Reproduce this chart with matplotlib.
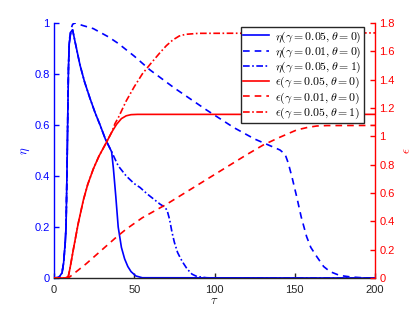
import matplotlib
matplotlib.use("Agg")
import matplotlib.pyplot as plt
import numpy as np

plt.rcParams['font.family'] = ['Liberation Sans', 'DejaVu Sans']
plt.rcParams['mathtext.fontset'] = 'cm'

# eta(gamma=0.05, theta=0)
tau_eta_s = [0, 3, 5, 6, 7, 7.5, 8, 8.5, 9, 9.5, 10.5, 11.6, 13, 16.2, 19, 22.4, 25.5, 28.7, 32, 35.9,
             37, 38.5, 40, 42, 44, 46, 48, 51, 55, 200]
eta_s = [0, 0.002, 0.02, 0.06, 0.14, 0.2, 0.38, 0.6, 0.82, 0.92, 0.965, 0.973, 0.93, 0.835, 0.77, 0.705,
         0.65, 0.6, 0.545, 0.495, 0.43, 0.32, 0.2, 0.12, 0.075, 0.045, 0.025, 0.008, 0.001, 0]

# eta(gamma=0.01, theta=0)
tau_eta_d = [0, 3, 5, 6, 7, 7.5, 8, 8.5, 9, 9.5, 10.5, 11.6, 13.1, 18, 24.5, 33.8, 40, 50, 59.8, 75, 95,
             112, 125, 140.8, 144, 146, 148.5, 151.2, 154, 157.4, 160, 163.7, 168, 172, 178, 185, 192, 200]
eta_d = [0, 0.002, 0.02, 0.06, 0.14, 0.2, 0.38, 0.6, 0.82, 0.93, 0.975, 0.995, 1.0, 0.99, 0.978, 0.946,
         0.92, 0.87, 0.816, 0.745, 0.659, 0.59, 0.545, 0.502, 0.485, 0.45, 0.39, 0.319, 0.24, 0.162, 0.12,
         0.084, 0.045, 0.025, 0.01, 0.004, 0.001, 0]

# eta(gamma=0.05, theta=1)
tau_eta_dd = [0, 3, 5, 6, 7, 7.5, 8, 8.5, 9, 9.5, 10.5, 11.6, 13, 16.2, 19, 22.4, 25.5, 28.7, 32, 35.9,
              40, 45, 50, 53.6, 58, 62, 66, 69, 70.5, 72, 73.5, 75, 77, 79, 80.6, 83, 86, 89, 95, 100, 200]
eta_dd = [0, 0.002, 0.02, 0.06, 0.14, 0.2, 0.38, 0.6, 0.82, 0.92, 0.965, 0.973, 0.93, 0.835, 0.77, 0.705,
          0.65, 0.6, 0.545, 0.495, 0.44, 0.40, 0.37, 0.355, 0.33, 0.31, 0.29, 0.278, 0.265, 0.23, 0.18,
          0.14, 0.1, 0.075, 0.058, 0.035, 0.015, 0.006, 0.001, 0, 0]

# eps(gamma=0.05, theta=0)
tau_eps_s = [0, 7, 8.9, 10, 12, 15, 18.3, 21, 24.5, 28, 32.8, 36, 39, 42, 45, 48, 52, 200]
eps_s = [0, 0, 0.01, 0.07, 0.198, 0.38, 0.55, 0.66, 0.77, 0.86, 0.96, 1.03, 1.085, 1.125, 1.145, 1.153,
         1.155, 1.155]

# eps(gamma=0.01, theta=0)
tau_eps_d = [0, 8, 9.5, 20, 30, 39, 45, 55, 70, 85, 100, 110, 120, 130.4, 140, 151.2, 158, 163.7, 170, 200]
eps_d = [0, 0, 0.005, 0.1, 0.2, 0.29, 0.345, 0.425, 0.52, 0.625, 0.73, 0.8, 0.87, 0.939, 0.99, 1.045,
         1.063, 1.073, 1.076, 1.077]

# eps(gamma=0.05, theta=1)
tau_eps_dd = [0, 7, 8.9, 10, 12, 15, 18.3, 21, 24.5, 28, 32.8, 36, 38, 40, 45, 50, 55, 60, 66, 70, 74,
              78, 82, 90, 200]
eps_dd = [0, 0, 0.01, 0.07, 0.198, 0.38, 0.55, 0.66, 0.77, 0.86, 0.96, 1.03, 1.09, 1.13, 1.25, 1.35,
          1.44, 1.51, 1.59, 1.64, 1.68, 1.708, 1.72, 1.727, 1.73]

labels = [r'$\eta(\gamma=0.05,\theta=0)$', r'$\eta(\gamma=0.01,\theta=0)$', r'$\eta(\gamma=0.05,\theta=1)$',
          r'$\epsilon(\gamma=0.05,\theta=0)$', r'$\epsilon(\gamma=0.01,\theta=0)$', r'$\epsilon(\gamma=0.05,\theta=1)$']

xticks = [0, 50, 100, 150, 200]
yticks_left = [0, 0.2, 0.4, 0.6, 0.8, 1]
yticks_right = [0, 0.2, 0.4, 0.6, 0.8, 1, 1.2, 1.4, 1.6, 1.8]

BLUE = '#0000ff'
RED = '#ff0000'
GRAY = '#262626'
fs = 8
lw = 1.2

fig = plt.figure(figsize=(4.15, 3.12), dpi=100)
ax = fig.add_axes([54/415, 1-278/312, (375-54)/415, (278-23)/312])
ax2 = ax.twinx()

h1, = ax.plot(tau_eta_s, eta_s, '-', color=BLUE, lw=lw)
h2, = ax.plot(tau_eta_d, eta_d, '--', color=BLUE, lw=lw, dashes=(4, 3))
h3, = ax.plot(tau_eta_dd, eta_dd, '-.', color=BLUE, lw=lw, dashes=(4, 1.5, 1, 1.5))
h4, = ax2.plot(tau_eps_s, eps_s, '-', color=RED, lw=lw)
h5, = ax2.plot(tau_eps_d, eps_d, '--', color=RED, lw=lw, dashes=(4, 3))
h6, = ax2.plot(tau_eps_dd, eps_dd, '-.', color=RED, lw=lw, dashes=(4, 1.5, 1, 1.5))

ax.set_xlim(0, 200)
ax.set_ylim(0, 1)
ax2.set_ylim(0, 1.8)

ax.set_xticks(xticks)
ax.set_xticklabels([str(v) for v in xticks])
ax.set_yticks(yticks_left)
ax.set_yticklabels(['0' if v == 0 else ('1' if v == 1 else f'{v:g}') for v in yticks_left])
ax2.set_yticks(yticks_right)
ax2.set_yticklabels([f'{v:g}' for v in yticks_right])

for a in (ax, ax2):
    a.spines['top'].set_visible(False)
ax.spines['right'].set_visible(False)
ax2.spines['left'].set_visible(False)
ax2.spines['bottom'].set_visible(False)
ax.spines['left'].set_color(BLUE)
ax.spines['left'].set_linewidth(1.0)
ax.spines['bottom'].set_color(GRAY)
ax.spines['bottom'].set_linewidth(1.0)
ax2.spines['right'].set_color(RED)
ax2.spines['right'].set_linewidth(1.0)

ax.tick_params(axis='y', direction='in', colors=BLUE, labelsize=fs, length=3.5, width=1, pad=3)
ax.tick_params(axis='x', direction='in', colors=GRAY, labelsize=fs, length=3.5, width=1, pad=5)
ax2.tick_params(axis='y', direction='in', colors=RED, labelsize=fs, length=3.5, width=1, pad=3)

ax.set_xlabel(r'$\tau$', fontsize=9, color=GRAY, labelpad=0)
ax.set_ylabel(r'$\eta$', fontsize=9, color=BLUE, labelpad=2)
ax2.set_ylabel(r'$\epsilon$', fontsize=9, color=RED, labelpad=5)

leg = ax2.legend([h1, h2, h3, h4, h5, h6], labels, loc='upper right', bbox_to_anchor=(364/415, 1-27/312),
                 bbox_transform=fig.transFigure, fontsize=8.5, frameon=True, fancybox=False,
                 edgecolor=GRAY, framealpha=1, borderpad=0.2, labelspacing=0.0, handlelength=2.2,
                 handletextpad=0.5, borderaxespad=0)
leg.get_frame().set_linewidth(1.0)
leg.set_zorder(10)

fig.savefig('out.png', dpi=100)
